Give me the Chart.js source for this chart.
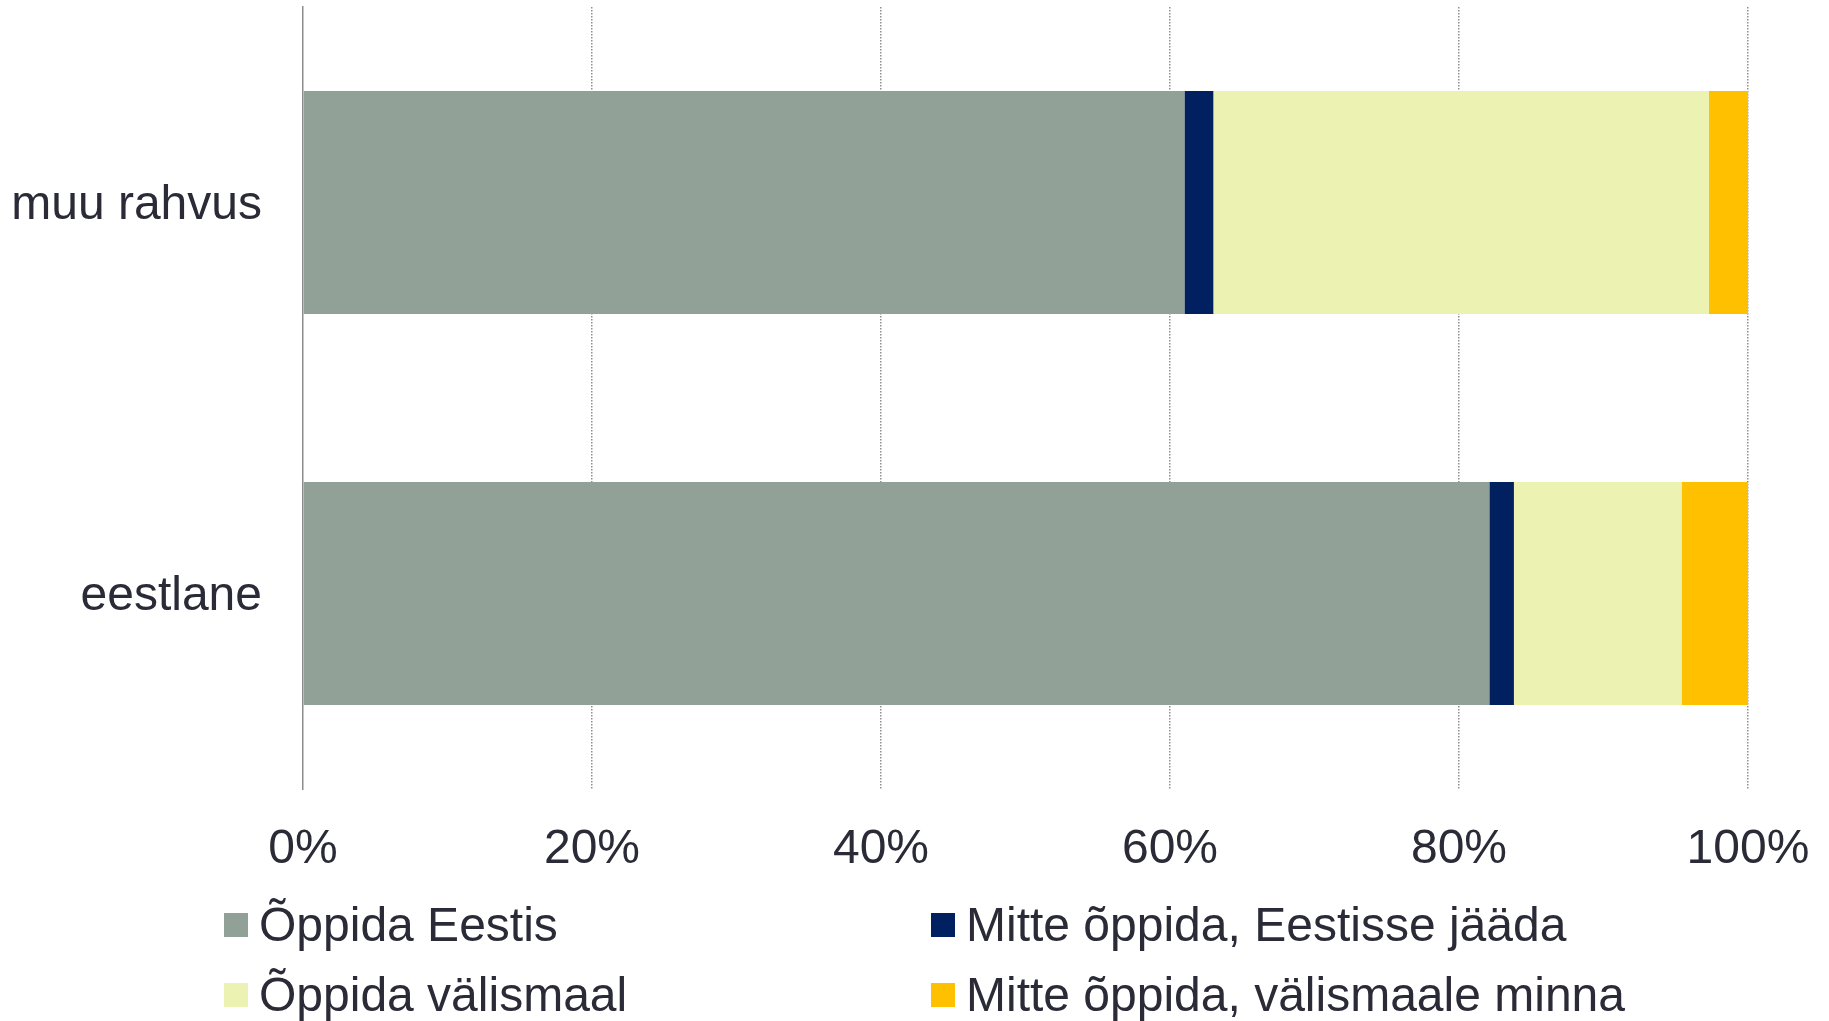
<!DOCTYPE html>
<html><head><meta charset="utf-8">
<script src="https://cdn.jsdelivr.net/npm/chart.js@4/dist/chart.umd.min.js"></script>
<style>
html,body{margin:0;padding:0;background:#fff;}
#wrap{position:relative;width:1829px;height:1021px;overflow:hidden;}
canvas{position:absolute;left:0;top:0;}
.legtext{position:absolute;font-family:"Liberation Sans",Arial,sans-serif;font-size:48px;line-height:48px;color:#2b2b38;white-space:nowrap;}
.legbox{position:absolute;width:24px;height:24px;}
</style></head><body>
<div id="wrap"><canvas id="c" width="1829" height="1021"></canvas><div id="legend"></div></div>
<script>
const categories = ['muu rahvus', 'eestlane'];
const seriesNames = ['Õppida Eestis', 'Mitte õppida, Eestisse jääda', 'Õppida välismaal', 'Mitte õppida, välismaale minna'];
const oppidaEestis = [61.0, 82.1];
const mitteOppidaEestisse = [2.0, 1.7];
const oppidaValismaal = [34.3, 11.6];
const mitteOppidaValismaale = [2.7, 4.6];
const tickValues = [0, 20, 40, 60, 80, 100];
const tickLabels = ['0%', '20%', '40%', '60%', '80%', '100%'];

const colors = ['#92A198', '#002060', '#ECF3B2', '#FFC000'];
const seriesData = [oppidaEestis, mitteOppidaEestisse, oppidaValismaal, mitteOppidaValismaale];
const textColor = '#2b2b38';
const font = {family: '"Liberation Sans", Arial, sans-serif', size: 48};

const datasets = seriesNames.map((name, i) => ({
  label: name,
  data: seriesData[i],
  backgroundColor: colors[i],
  borderWidth: 0,
  barPercentage: 0.57,
  categoryPercentage: 1.0
}));

new Chart(document.getElementById('c'), {
  type: 'bar',
  data: {labels: categories, datasets},
  options: {
    indexAxis: 'y',
    responsive: false,
    animation: false,
    devicePixelRatio: 1,
    layout: {padding: {top: 7, right: 81, left: 0, bottom: 0}},
    plugins: {legend: {display: false}, tooltip: {enabled: false}},
    scales: {
      x: {
        stacked: true,
        min: 0, max: 100,
        afterBuildTicks: (scale) => { scale.ticks = tickValues.map(v => ({value: v})); },
        afterFit: (scale) => {
          scale.height = 232;
          scale.paddingLeft = 0; scale.paddingRight = 0;
        },
        ticks: {
          font, color: textColor, padding: 32, maxRotation: 0,
          callback: (v) => tickLabels[tickValues.indexOf(v)]
        },
        grid: {
          drawTicks: false,
          lineWidth: 1.5,
          color: (ctx) => ctx.index === 0 ? 'rgba(0,0,0,0)' : '#8f8f8f',
          borderDash: [1.5, 1.5]
        },
        border: {display: false, dash: [1.5, 1.5]}
      },
      y: {
        stacked: true,
        afterFit: (scale) => {
          scale.width = 303;
          scale.paddingTop = 0; scale.paddingBottom = 0;
        },
        ticks: {font, color: textColor, padding: 41, labelOffset: 3},
        grid: {display: false, drawTicks: false},
        border: {display: true, color: '#8c8c8c', width: 1.5}
      }
    }
  }
});

// legend as HTML text
const legend = document.getElementById('legend');
const legPos = [
  {bx: 224, tx: 259, row: 0}, {bx: 931, tx: 966, row: 0},
  {bx: 224, tx: 259, row: 1}, {bx: 931, tx: 966, row: 1}
];
const legOrder = [0, 1, 2, 3];
legOrder.forEach((si, k) => {
  const p = legPos[k];
  const rowTop = p.row === 0 ? 901 : 971;
  const box = document.createElement('div');
  box.className = 'legbox';
  box.style.left = p.bx + 'px';
  box.style.top = (rowTop + 12) + 'px';
  box.style.background = colors[si];
  legend.appendChild(box);
  const t = document.createElement('div');
  t.className = 'legtext';
  t.style.left = p.tx + 'px';
  t.style.top = rowTop + 'px';
  t.textContent = seriesNames[si];
  legend.appendChild(t);
});
</script>
</body></html>
